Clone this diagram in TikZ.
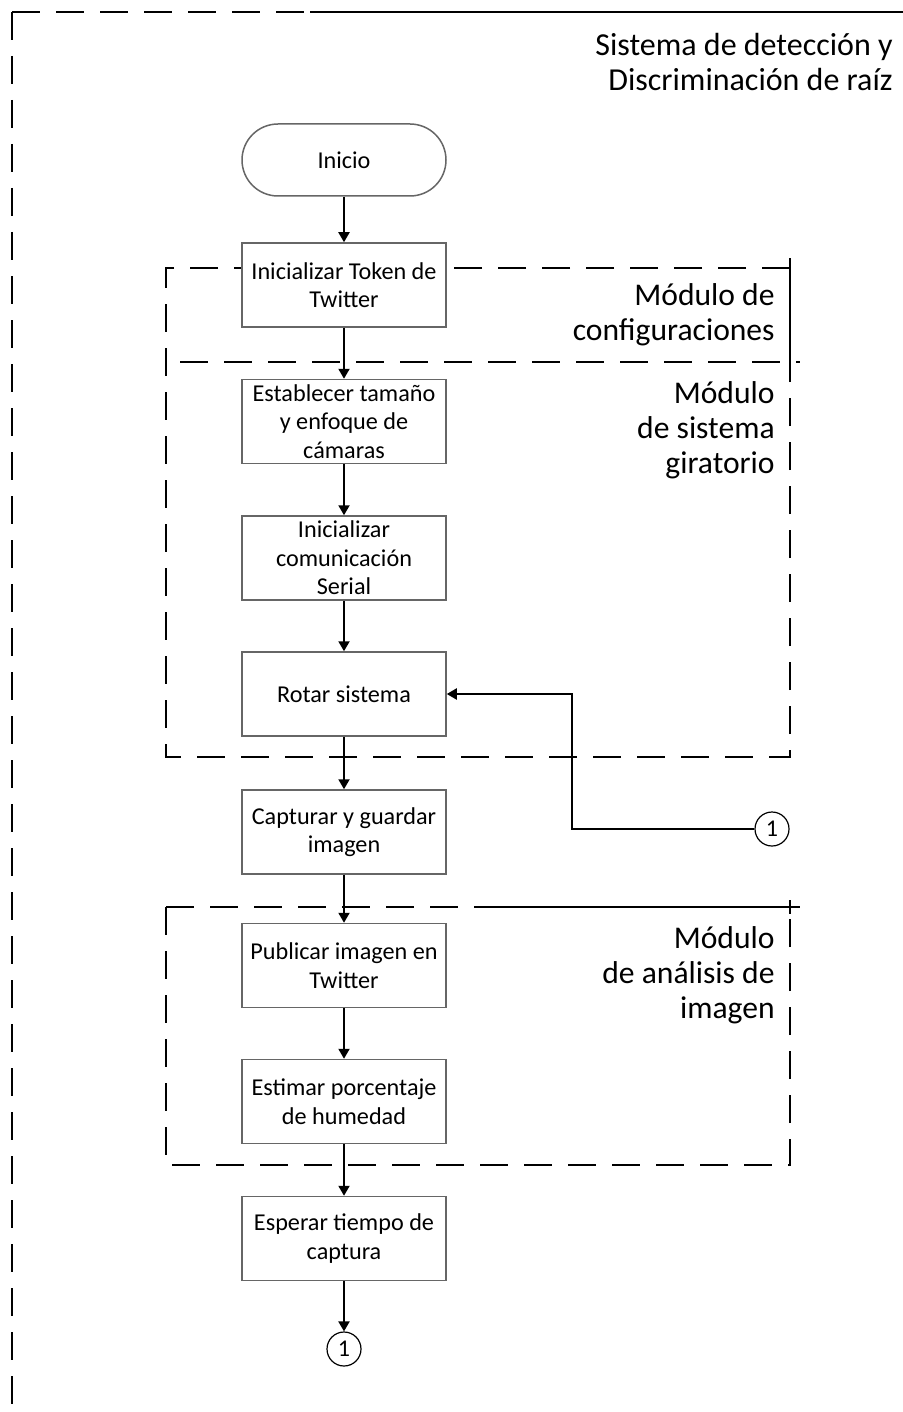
\documentclass[tikz,border=0pt]{standalone}
\usepackage{fontspec}
\setmainfont{Carlito}
\usetikzlibrary{arrows.meta}
\begin{document}
\begin{tikzpicture}[x=0.5pt,y=-0.5pt,
  proc/.style={draw=black!60, fill=white, line width=0.75pt, minimum width=102pt, minimum height=42pt,
    inner sep=0pt, align=center, font=\fontsize{12.1}{14.3}\selectfont},
  term/.style={proc, rounded corners=18pt, minimum height=36pt},
  conn/.style={draw=black, fill=white, line width=0.6pt, circle, minimum size=17pt, inner sep=0pt,
    font=\fontsize{12}{12}\selectfont},
  arr/.style={draw=black, line width=1pt, -{Triangle[width=5.5pt,length=5pt]}},
  frame/.style={draw=black, line width=1pt, dash pattern=on 14pt off 8pt},
  modlabel/.style={anchor=east, align=right, inner sep=0pt, font=\fontsize{15.8}{17.5}\selectfont}]
\useasboundingbox (0,0) rectangle (903,1412);

% outer system frame (right part of the top edge drawn twice, nearly solid)
\draw[frame] (12,12) -- (903,12);
\draw[frame, dash phase=6pt] (310,12) -- (903,12);
\draw[frame] (12,12) -- (12,1412);
\node[modlabel, font=\fontsize{16}{17.5}\selectfont] (title) at (893,62) {Sistema de detección y\\Discriminación de raíz};

% module frames
\draw[frame] (790,268) -- (166,268) -- (166,757) -- (790,757) -- (790,362);
\draw[draw=black, line width=1pt] (790,258) -- (790,368);
\draw[frame] (180,362) -- (800,362);
\draw[frame] (166,907) -- (800,907);
\draw[frame, dash phase=14pt] (480,907) -- (800,907);
\draw[frame] (166,907) -- (166,1165) -- (790,1165) -- (790,907);
\draw[draw=black, line width=1pt] (790,900) -- (790,914);

\node[modlabel] (mconf) at (775,315) {Módulo de\\configuraciones};
\node[modlabel] (mgir) at (775,430) {Módulo\\de sistema\\giratorio};
\node[modlabel] (manal) at (775,975) {Módulo\\de análisis de\\imagen};

% process steps
\node[term] (inicio) at (344,160) {Inicio};
\node[proc] (token) at (344,285) {Inicializar Token de\\Twitter};
\node[proc] (camara) at (344,421.5) {Establecer tamaño\\y enfoque de\\cámaras};
\node[proc] (serial) at (344,558) {Inicializar\\comunicación\\Serial};
\node[proc] (rotar) at (344,694) {Rotar sistema};
\node[proc] (captura) at (344,832) {Capturar y guardar\\imagen};
\node[proc] (publica) at (344,965.5) {Publicar imagen en\\Twitter};
\node[proc] (humedad) at (344,1101.5) {Estimar porcentaje\\de humedad};
\node[proc] (espera) at (344,1238.5) {Esperar tiempo de\\captura};
\node[conn] (finc) at (344,1349) {1};
\node[conn] (inic) at (772,829) {1};
\coordinate (codo) at (572,829);

% flow
\draw[arr] (inicio) -- (token);
\draw[arr] (token) -- (camara);
\draw[arr] (camara) -- (serial);
\draw[arr] (serial) -- (rotar);
\draw[arr] (rotar) -- (captura);
\draw[arr] (captura) -- (publica);
\draw[arr] (publica) -- (humedad);
\draw[arr] (humedad) -- (espera);
\draw[arr] (espera) -- (finc);
\draw[arr] (inic) -- (codo) |- (rotar);
\end{tikzpicture}
\end{document}
